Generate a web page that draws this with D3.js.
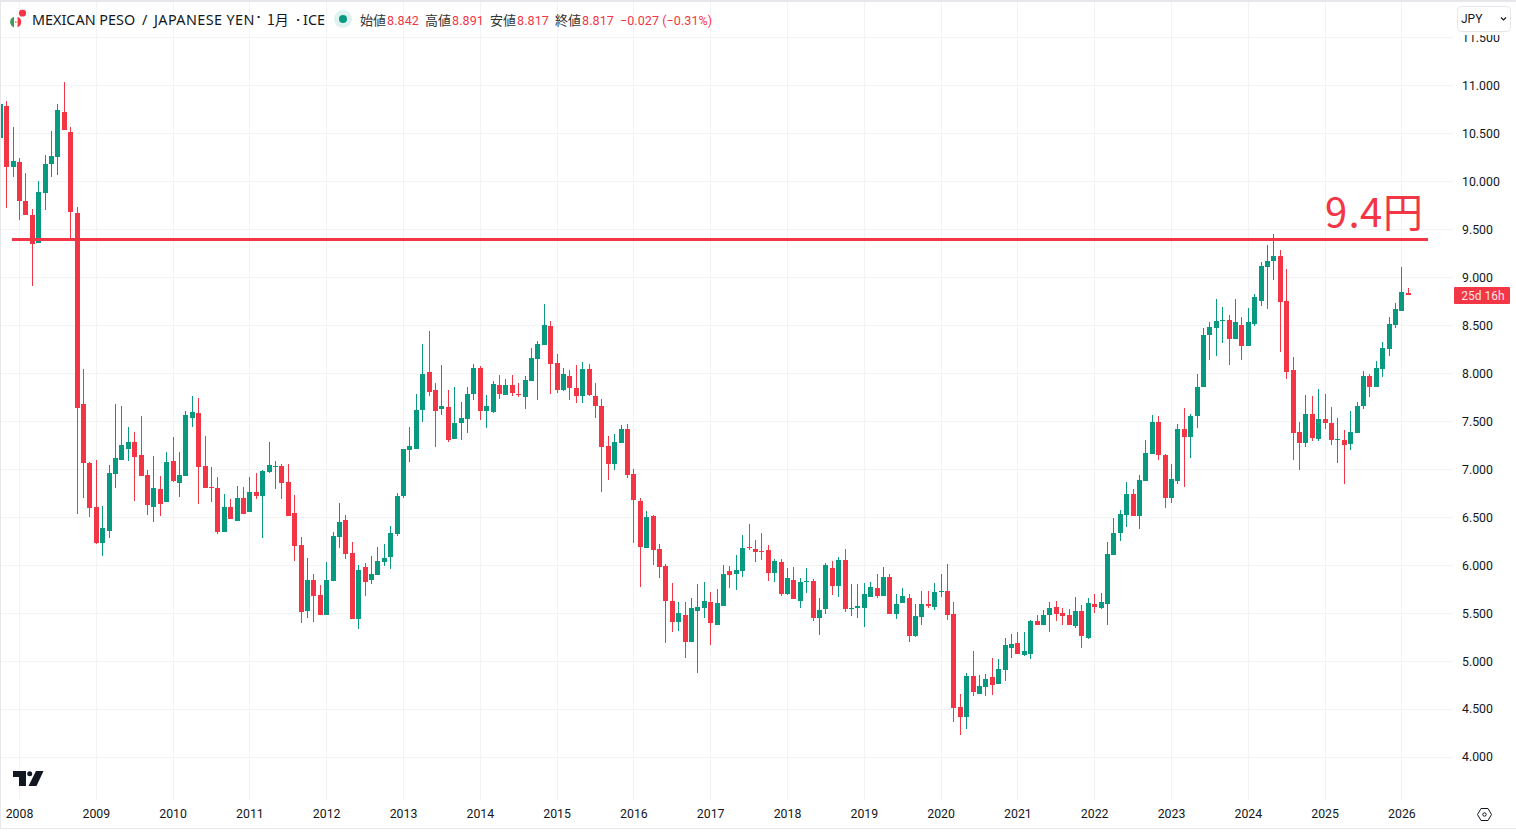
<!DOCTYPE html>
<html lang="ja"><head><meta charset="utf-8">
<script src="https://cdnjs.cloudflare.com/ajax/libs/d3/7.8.5/d3.min.js"></script>
<style>
html,body{margin:0;padding:0;background:#fff;overflow:hidden}
svg{display:block}
text{font-family:Roboto,"Noto Sans CJK JP",sans-serif;fill:#131722}
</style></head><body><div id="chart"></div>
<script>
const opens=[10.45,10.79,10.15,10.20,9.80,9.65,9.36,9.88,10.18,10.26,
10.72,10.52,9.67,7.68,7.07,6.61,6.23,6.36,6.95,7.10,
7.21,7.28,7.15,6.94,6.61,6.79,6.66,7.09,6.86,6.93,
7.53,7.59,7.03,6.81,6.80,6.35,6.61,6.46,6.70,6.55,
6.76,6.72,6.97,7.02,7.03,6.87,6.54,6.21,5.52,5.85,
5.69,5.48,5.84,6.29,6.47,6.13,5.44,5.98,5.85,5.90,
6.03,6.09,6.33,6.72,7.20,7.21,7.62,8.01,7.83,7.63,
7.65,7.32,7.48,7.52,7.78,8.06,7.61,7.60,7.88,7.77,
7.88,7.78,7.75,7.92,8.15,8.30,8.49,8.11,7.83,7.97,
7.85,7.76,8.05,7.76,7.66,7.24,7.05,7.27,7.42,6.95,
6.67,6.18,6.51,6.17,5.99,5.63,5.41,5.48,5.20,5.52,
5.55,5.62,5.38,5.57,5.94,5.91,5.94,6.19,6.17,6.15,
6.16,5.92,6.03,5.70,5.85,5.63,5.82,5.84,5.45,5.54,
5.97,5.78,6.05,5.54,5.55,5.55,5.67,5.76,5.68,5.88,
5.49,5.61,5.66,5.26,5.46,5.60,5.56,5.72,5.73,5.49,
4.52,4.42,4.84,4.66,4.73,4.83,4.76,4.91,5.14,5.19,
5.06,5.07,5.42,5.38,5.48,5.56,5.50,5.48,5.37,5.52,
5.24,5.60,5.55,5.59,6.11,6.34,6.52,6.74,6.51,6.88,
7.16,7.49,7.15,6.70,6.88,7.42,7.34,7.55,7.86,8.40,
8.47,8.55,8.56,8.36,8.50,8.29,8.51,8.75,9.11,9.17,
9.22,8.75,8.03,7.39,7.27,7.58,7.32,7.52,7.48,7.31,
7.31,7.26,7.38,7.66,7.97,7.86,8.05,8.25,8.50,8.65,
8.842];
const highs=[10.81,10.84,10.57,10.25,10.09,9.71,10.01,10.28,10.53,10.81,
11.04,10.57,9.73,8.05,7.08,7.10,6.62,7.04,7.68,7.66,
7.44,7.39,7.56,6.99,7.14,6.93,7.18,7.34,7.18,7.61,
7.76,7.74,7.35,7.02,6.92,6.74,6.69,6.83,6.82,6.92,
6.96,6.99,7.28,7.09,7.05,7.05,6.73,6.29,6.07,5.91,
5.79,6.03,6.35,6.65,6.52,6.24,6.00,6.02,6.10,6.19,
6.22,6.41,6.75,7.21,7.44,7.78,8.31,8.44,7.90,8.09,
7.83,7.86,7.70,7.86,8.10,8.08,7.77,7.92,7.98,7.94,
7.98,7.90,7.97,8.26,8.34,8.72,8.55,8.20,8.06,8.03,
8.09,8.12,8.10,7.90,7.73,7.35,7.37,7.46,7.47,7.00,
6.70,6.56,6.52,6.22,6.01,5.81,5.62,5.62,5.66,5.80,
5.82,5.72,5.75,6.00,5.99,6.11,6.31,6.43,6.26,6.34,
6.21,6.06,6.06,5.97,5.98,5.87,5.97,5.86,5.66,6.02,
6.04,6.09,6.17,5.80,5.80,5.81,5.82,5.91,5.98,5.91,
5.70,5.76,5.70,5.60,5.73,5.73,5.81,5.91,6.01,5.62,
4.66,4.88,5.11,4.86,4.87,5.03,5.02,5.24,5.28,5.30,
5.30,5.43,5.48,5.53,5.62,5.63,5.55,5.54,5.67,5.58,
5.66,5.70,5.71,6.24,6.49,6.57,6.87,6.79,6.94,7.30,
7.57,7.55,7.16,7.05,7.47,7.64,7.58,7.99,8.47,8.54,
8.78,8.69,8.61,8.77,8.59,8.68,8.83,9.16,9.34,9.45,
9.29,9.09,8.17,7.49,7.77,7.76,7.84,7.78,7.65,7.53,
7.41,7.61,7.70,8.02,7.99,8.13,8.33,8.59,8.73,9.11,
8.891];
const lows=[10.45,9.72,10.05,9.60,9.65,8.91,9.36,9.70,10.05,10.07,
10.54,9.39,6.53,6.70,6.50,6.22,6.10,6.28,6.80,7.10,
7.09,6.67,6.93,6.52,6.45,6.51,6.66,6.87,6.71,6.93,
7.44,6.64,6.80,6.66,6.33,6.35,6.48,6.46,6.53,6.55,
6.69,6.28,6.96,6.79,6.69,6.51,6.04,5.40,5.45,5.41,
5.48,5.48,5.84,6.18,6.06,5.44,5.33,5.68,5.80,5.90,
5.99,5.96,6.30,6.70,7.08,7.21,7.49,7.76,7.23,7.57,
7.28,7.32,7.30,7.38,7.72,7.51,7.43,7.59,7.73,7.77,
7.76,7.75,7.63,7.92,7.72,8.30,7.78,7.79,7.82,7.72,
7.69,7.69,7.76,7.53,6.76,6.89,6.99,7.27,6.91,6.23,
5.77,6.18,6.00,5.87,5.19,5.30,5.31,5.03,5.20,4.88,
5.45,5.17,5.38,5.57,5.76,5.74,5.88,6.16,6.03,6.05,
5.84,5.82,5.68,5.69,5.65,5.55,5.71,5.42,5.27,5.49,
5.69,5.67,5.51,5.47,5.45,5.36,5.67,5.66,5.68,5.49,
5.44,5.61,5.20,5.25,5.38,5.55,5.53,5.67,5.43,4.37,
4.23,4.29,4.64,4.66,4.64,4.65,4.76,4.79,5.03,5.07,
5.05,5.02,5.38,5.38,5.30,5.42,5.38,5.38,5.35,5.14,
5.23,5.50,5.54,5.38,6.11,6.25,6.40,6.51,6.38,6.88,
7.16,7.10,6.60,6.65,6.85,6.81,7.12,7.43,7.86,8.14,
8.18,8.32,8.09,8.36,8.14,8.29,8.49,8.70,8.67,8.97,
8.22,7.94,7.10,6.99,7.23,7.29,7.29,7.42,7.25,7.07,
6.85,7.20,7.38,7.63,7.75,7.86,7.96,8.18,8.47,8.65,
8.817];
const closes=[10.81,10.15,10.21,9.80,9.65,9.35,9.89,10.18,10.27,10.74,
10.54,9.68,7.64,7.07,6.60,6.23,6.39,6.96,7.12,7.25,
7.28,7.13,6.93,6.63,6.80,6.64,7.08,6.88,6.94,7.57,
7.60,7.02,6.80,6.80,6.35,6.61,6.48,6.70,6.53,6.76,
6.72,6.98,7.04,7.03,6.86,6.51,6.20,5.51,5.85,5.68,
5.48,5.85,6.30,6.45,6.12,5.44,5.95,5.82,5.91,6.04,
6.07,6.34,6.72,7.21,7.24,7.62,7.99,7.81,7.61,7.66,
7.30,7.48,7.53,7.78,8.06,7.61,7.66,7.89,7.78,7.88,
7.79,7.77,7.93,8.16,8.31,8.50,8.10,7.83,7.99,7.85,
7.76,8.05,7.77,7.66,7.23,7.05,7.28,7.42,6.94,6.68,
6.19,6.50,6.16,5.98,5.63,5.41,5.50,5.20,5.55,5.56,
5.63,5.40,5.61,5.91,5.90,5.95,6.18,6.18,6.14,6.14,
5.92,6.04,5.70,5.87,5.65,5.82,5.84,5.45,5.53,6.00,
5.78,6.05,5.54,5.55,5.57,5.70,5.77,5.68,5.88,5.49,
5.60,5.68,5.26,5.47,5.60,5.57,5.72,5.73,5.48,4.51,
4.42,4.84,4.68,4.74,4.81,4.75,4.92,5.17,5.18,5.07,
5.11,5.42,5.38,5.48,5.55,5.49,5.47,5.38,5.52,5.26,
5.61,5.56,5.62,6.12,6.34,6.53,6.74,6.51,6.89,7.17,
7.49,7.15,6.70,6.90,7.42,7.34,7.56,7.86,8.40,8.48,
8.55,8.56,8.36,8.53,8.29,8.54,8.80,9.12,9.17,9.22,
8.74,8.01,7.38,7.27,7.58,7.33,7.52,7.48,7.31,7.32,
7.25,7.39,7.66,7.97,7.86,8.06,8.26,8.51,8.67,8.85,
8.817];
const firstMonth=new Date(2007,9,1);
const yearLabels=[2008,2009,2010,2011,2012,2013,2014,2015,2016,2017,2018,2019,2020,2021,2022,2023,2024,2025,2026];
const priceTicks=[4,4.5,5,5.5,6,6.5,7,7.5,8,8.5,9,9.5,10,10.5,11,11.5];
const levelValue=9.4, levelLabel="9.4円";
const symbolParts=["MEXICAN PESO","/","JAPANESE YEN"];
const intervalLabel="1月", exchangeLabel="ICE";
const legendNames=["始値","高値","安値","終値"];
const legendValues=["8.842","8.891","8.817","8.817"];
const changeLabel="−0.027 (−0.31%)";
const countdownLabel="25d 16h";
const currencyLabel="JPY";

const RED="#F23645",GREEN="#089981",GRID="#f2f3f5",EDGE="#e6e7ea";
const W=1516,H=834;
const svg=d3.select("#chart").append("svg").attr("width",W).attr("height",H).attr("viewBox",`0 0 ${W} ${H}`);
const defs=svg.append("defs");

const months=d3.range(opens.length).map(i=>new Date(firstMonth.getFullYear(),firstMonth.getMonth()+i,1));
const x=d3.scaleLinear().domain([0,opens.length-1]).range([0.3,0.3+6.4*(opens.length-1)]);
const y=d3.scaleLinear().domain([4,11]).range([757,85.56]);
const yearIndex=yr=>months.findIndex(m=>m.getFullYear()===yr&&m.getMonth()===0);
const candles=months.map((m,i)=>({i,o:opens[i],h:highs[i],l:lows[i],c:closes[i]}));

// grid
const grid=svg.append("g").attr("shape-rendering","crispEdges");
grid.selectAll("line.v").data(yearLabels).join("line").attr("class","v")
 .attr("x1",d=>Math.floor(x(yearIndex(d)))+.5).attr("x2",d=>Math.floor(x(yearIndex(d)))+.5)
 .attr("y1",2).attr("y2",800).attr("stroke",GRID);
grid.selectAll("line.h").data(priceTicks).join("line").attr("class","h")
 .attr("x1",1).attr("x2",1453).attr("y1",d=>Math.floor(y(d))+.5).attr("y2",d=>Math.floor(y(d))+.5).attr("stroke",GRID);

// candles
const col=d=>d.c>=d.o?GREEN:RED;
const left=d=>Math.round(x(d.i)-2.5);
const cg=svg.append("g").attr("shape-rendering","crispEdges");
cg.selectAll("rect.w").data(candles).join("rect").attr("class","w")
 .attr("x",d=>left(d)+2).attr("width",1).attr("y",d=>y(d.h)).attr("height",d=>y(d.l)-y(d.h)).attr("fill",col);
cg.selectAll("rect.b").data(candles).join("rect").attr("class","b")
 .attr("x",left).attr("width",5).attr("y",d=>y(Math.max(d.o,d.c)))
 .attr("height",d=>Math.max(1,Math.abs(y(d.o)-y(d.c)))).attr("fill",col);

// level line + label
svg.append("rect").attr("x",12).attr("width",1416).attr("y",Math.round(y(levelValue))-1).attr("height",3)
 .attr("fill",RED).attr("shape-rendering","crispEdges");
svg.append("text").attr("x","1325 1348.5 1360 1383").attr("y",227).text(levelLabel)
 .style("font-family",'"Noto Sans CJK JP",sans-serif').style("font-size","40px").style("fill",RED);

// price axis
const yAxis=d3.axisRight(y).tickValues(priceTicks).tickSize(0).tickPadding(0).offset(0).tickFormat(d3.format(".3f"));
defs.append("clipPath").attr("id","pc").append("rect").attr("x",1454).attr("y",35).attr("width",62).attr("height",770);
const ya=svg.append("g").attr("clip-path","url(#pc)").append("g").attr("transform","translate(1462,0)").call(yAxis);
ya.select(".domain").remove();
ya.selectAll("text").style("font-size","12.3px").style("font-family","Roboto,sans-serif").attr("x",0).attr("dy","0.36em").attr("fill","#131722");

// time axis
const xAxis=d3.axisBottom(x).tickValues(yearLabels.map(yearIndex)).tickSize(0).tickPadding(0).offset(0)
 .tickFormat(d=>months[d].getFullYear());
const xa=svg.append("g").attr("transform","translate(0,808)").call(xAxis);
xa.select(".domain").remove();
xa.selectAll("text").style("font-size","12.3px").style("font-family","Roboto,sans-serif").attr("y",0).attr("dy","0.78em").attr("fill","#131722");

// countdown tag
svg.append("rect").attr("x",1454).attr("y",287).attr("width",56).attr("height",17).attr("rx",1).attr("fill",RED);
svg.append("text").attr("x",1483).attr("y",299.5).attr("text-anchor","middle").text(countdownLabel)
 .style("font-size","12px").style("fill","#fde3e5");

// header
const hdr=svg.append("g");
const title=hdr.append("text").attr("y",25).style("font-size","14.4px").style("font-family",'"Noto Sans",sans-serif');
title.append("tspan").attr("x",32).text(symbolParts[0]);
title.append("tspan").attr("x",142).text(symbolParts[1]);
title.append("tspan").attr("x",154).style("letter-spacing",".4px").text(symbolParts[2]);
hdr.append("text").attr("x",256.5).attr("y",22).text("·").style("font-size","14px").style("font-weight","bold");
hdr.append("text").attr("x",267).attr("y",25).text(intervalLabel).style("font-size","14px").style("font-family",'"Noto Sans CJK JP",sans-serif');
hdr.append("text").attr("x",296).attr("y",25).text("·").style("font-size","14px").style("font-weight","bold");
hdr.append("text").attr("x",303).attr("y",25).text(exchangeLabel).style("font-size","14.4px").style("font-family",'"Noto Sans",sans-serif');
hdr.append("circle").attr("cx",343).attr("cy",19).attr("r",9).attr("fill","#e0f2ef");
hdr.append("circle").attr("cx",343).attr("cy",19).attr("r",4).attr("fill",GREEN);
const legendX=[360,425,490,555];
legendNames.forEach((n,i)=>{
 hdr.append("text").attr("x",legendX[i]).attr("y",25).text(n).style("font-size","13px").style("font-family",'"Noto Sans CJK JP",sans-serif').style("fill","#333");
 hdr.append("text").attr("x",legendX[i]+27).attr("y",24.5).text(legendValues[i]).style("font-size","12.5px").style("fill",RED).style("letter-spacing",".1px");
});
hdr.append("text").attr("x",620).attr("y",24.5).text(changeLabel).style("font-size","12.5px").style("fill",RED).style("letter-spacing",".08px");

// symbol icon: yen disc behind, flag disc in front
const ic=svg.append("g");
defs.append("clipPath").attr("id","yenDisc").append("circle").attr("cx",22.5).attr("cy",15).attr("r",5.5);
defs.append("clipPath").attr("id","flagDisc").append("circle").attr("cx",15.7).attr("cy",22).attr("r",5.6);
ic.append("circle").attr("cx",22.5).attr("cy",15).attr("r",6.5).attr("fill","#eef0f3");
ic.append("circle").attr("cx",22.5).attr("cy",15).attr("r",5.5).attr("fill","#fff");
ic.append("circle").attr("cx",22.5).attr("cy",13).attr("r",3.6).attr("fill",RED).attr("clip-path","url(#yenDisc)");
ic.append("circle").attr("cx",15.7).attr("cy",22).attr("r",6.6).attr("fill","#fff");
const flag=ic.append("g").attr("clip-path","url(#flagDisc)");
flag.append("rect").attr("x",10).attr("y",16).attr("width",4).attr("height",12).attr("fill","#3f9c5a");
flag.append("rect").attr("x",14).attr("y",16).attr("width",3.6).attr("height",12).attr("fill","#fff");
flag.append("circle").attr("cx",15.8).attr("cy",22).attr("r",1).attr("fill","#e8a04c");
flag.append("rect").attr("x",17.6).attr("y",16).attr("width",4).attr("height",12).attr("fill",RED);

// currency button
svg.append("rect").attr("x",1457.5).attr("y",6.5).attr("width",53).attr("height",25).attr("rx",4).attr("fill","#fff").attr("stroke",EDGE);
svg.append("text").attr("x",1461).attr("y",23).text(currencyLabel).style("font-size","12px");
svg.append("path").attr("d","M1501 17.5l2.5 2.5l2.5-2.5").attr("fill","none").attr("stroke","#131722").attr("stroke-width",1.2);

// logo
svg.append("path").attr("fill","#131722").attr("d","M13 771h13v15h-7v-9h-6z M36 771h7.5l-7 15h-8z");
svg.append("circle").attr("cx",29.7).attr("cy",773.8).attr("r",2.5).attr("fill","#131722");

// settings icon
svg.append("path").attr("fill","none").attr("stroke","#131722").attr("d","M1477.5 814.5l3.5-6h7l3.5 6l-3.5 6h-7z");
svg.append("circle").attr("cx",1484.5).attr("cy",814.5).attr("r",1.7).attr("fill","none").attr("stroke","#131722");

// frame
svg.append("rect").attr("x",0).attr("y",0).attr("width",W).attr("height",2).attr("fill",EDGE);
svg.append("rect").attr("x",0).attr("y",0).attr("width",1).attr("height",829).attr("fill",EDGE);
svg.append("rect").attr("x",0).attr("y",828).attr("width",W).attr("height",1).attr("fill",EDGE);
</script></body></html>
